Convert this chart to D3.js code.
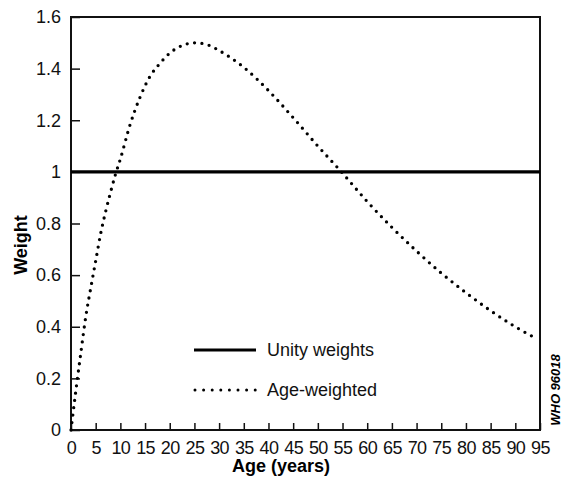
<!DOCTYPE html>
<html>
<head>
<meta charset="utf-8">
<script src="https://cdn.jsdelivr.net/npm/d3@7"></script>
<style>
  body { margin: 0; background: #fff; }
  svg { font-family: "Liberation Sans", Arial, Helvetica, sans-serif; }
</style>
</head>
<body>
<svg width="562" height="478"></svg>
<script>
// age (years) and weight
const ages = [0, 1, 2, 3, 4, 5, 6, 7, 8, 9, 10, 12, 14, 16, 18, 20, 22, 25, 28, 30,
              35, 40, 45, 50, 55, 60, 65, 70, 75, 80, 85, 90, 94.5];
const ageWeights = [0, 0.155, 0.30, 0.44, 0.55, 0.655, 0.76, 0.845, 0.92, 0.99, 1.05,
                    1.185, 1.29, 1.37, 1.42, 1.46, 1.485, 1.50, 1.49, 1.47,
                    1.405, 1.315, 1.21, 1.10, 0.995, 0.885, 0.785, 0.693, 0.608,
                    0.532, 0.462, 0.40, 0.352];
const unityAges = [0, 95];
const unityWeights = [1, 1];

const xTicks = [0, 5, 10, 15, 20, 25, 30, 35, 40, 45, 50, 55, 60, 65, 70, 75, 80, 85, 90, 95];
const yTicks = [0, 0.2, 0.4, 0.6, 0.8, 1, 1.2, 1.4, 1.6];
const legendLabels = ["Unity weights", "Age-weighted"];

const svg = d3.select("svg");

const x = d3.scaleLinear().domain([0, 95]).range([71, 540]);
const y = d3.scaleLinear().domain([0, 1.6]).range([430, 17]);

// axes, ticks pointing inward
const yAxis = svg.append("g")
    .attr("transform", "translate(" + x(0) + ",0)")
    .call(d3.axisLeft(y).tickValues(yTicks).tickSize(-9).tickPadding(10)
        .tickFormat(function(d) { return "" + d; }));

const xAxis = svg.append("g")
    .attr("transform", "translate(0," + y(0) + ")")
    .call(d3.axisBottom(x).tickValues(xTicks).tickSize(-7).tickPadding(11));

[xAxis, yAxis].forEach(function(a) {
    a.select(".domain").remove();
    a.selectAll("line").attr("stroke", "#111").attr("stroke-width", 1.5);
    a.selectAll("text")
        .attr("font-size", 18)
        .attr("fill", "#111")
        .attr("font-family", "'Liberation Sans', Arial, sans-serif");
});
xAxis.selectAll("text").attr("letter-spacing", -0.6);

// frame
svg.append("rect")
    .attr("x", x(0))
    .attr("y", y(1.6))
    .attr("width", x(95) - x(0))
    .attr("height", y(0) - y(1.6))
    .attr("fill", "none")
    .attr("stroke", "#111")
    .attr("stroke-width", 2);

// unity weights
const line = d3.line()
    .x(function(d) { return x(d[0]); })
    .y(function(d) { return y(d[1]); });

svg.append("path")
    .datum(d3.zip(unityAges, unityWeights))
    .attr("d", line)
    .attr("fill", "none")
    .attr("stroke", "#000")
    .attr("stroke-width", 3.2);

// age weighted, dotted
const curve = d3.line()
    .x(function(d) { return x(d[0]); })
    .y(function(d) { return y(d[1]); })
    .curve(d3.curveMonotoneX);

svg.append("path")
    .datum(d3.zip(ages, ageWeights))
    .attr("d", curve)
    .attr("fill", "none")
    .attr("stroke", "#000")
    .attr("stroke-width", 3.3)
    .attr("stroke-linecap", "round")
    .attr("stroke-dasharray", "0 7.4");

// legend
const legend = svg.append("g");
legend.append("line")
    .attr("x1", 194).attr("x2", 256)
    .attr("y1", 350).attr("y2", 350)
    .attr("stroke", "#000")
    .attr("stroke-width", 3);
legend.append("line")
    .attr("x1", 195).attr("x2", 256)
    .attr("y1", 390).attr("y2", 390)
    .attr("stroke", "#000")
    .attr("stroke-width", 3)
    .attr("stroke-linecap", "round")
    .attr("stroke-dasharray", "0 8.6");
legend.selectAll("text.lg")
    .data(legendLabels)
    .enter().append("text")
    .attr("class", "lg")
    .attr("x", 267)
    .attr("y", function(d, i) { return 356 + i * 40; })
    .attr("font-size", 18)
    .attr("fill", "#111")
    .text(function(d) { return d; });

// axis titles
svg.append("text")
    .attr("transform", "translate(27,245) rotate(-90)")
    .attr("text-anchor", "middle")
    .attr("font-size", 18)
    .attr("font-weight", "bold")
    .text("Weight");

svg.append("text")
    .attr("x", 281)
    .attr("y", 472)
    .attr("text-anchor", "middle")
    .attr("font-size", 18)
    .attr("font-weight", "bold")
    .text("Age (years)");

// figure code
svg.append("text")
    .attr("transform", "translate(560,390) rotate(-90)")
    .attr("text-anchor", "middle")
    .attr("font-size", 13)
    .attr("font-weight", "bold")
    .attr("font-style", "italic")
    .text("WHO 96018");
</script>
</body>
</html>
